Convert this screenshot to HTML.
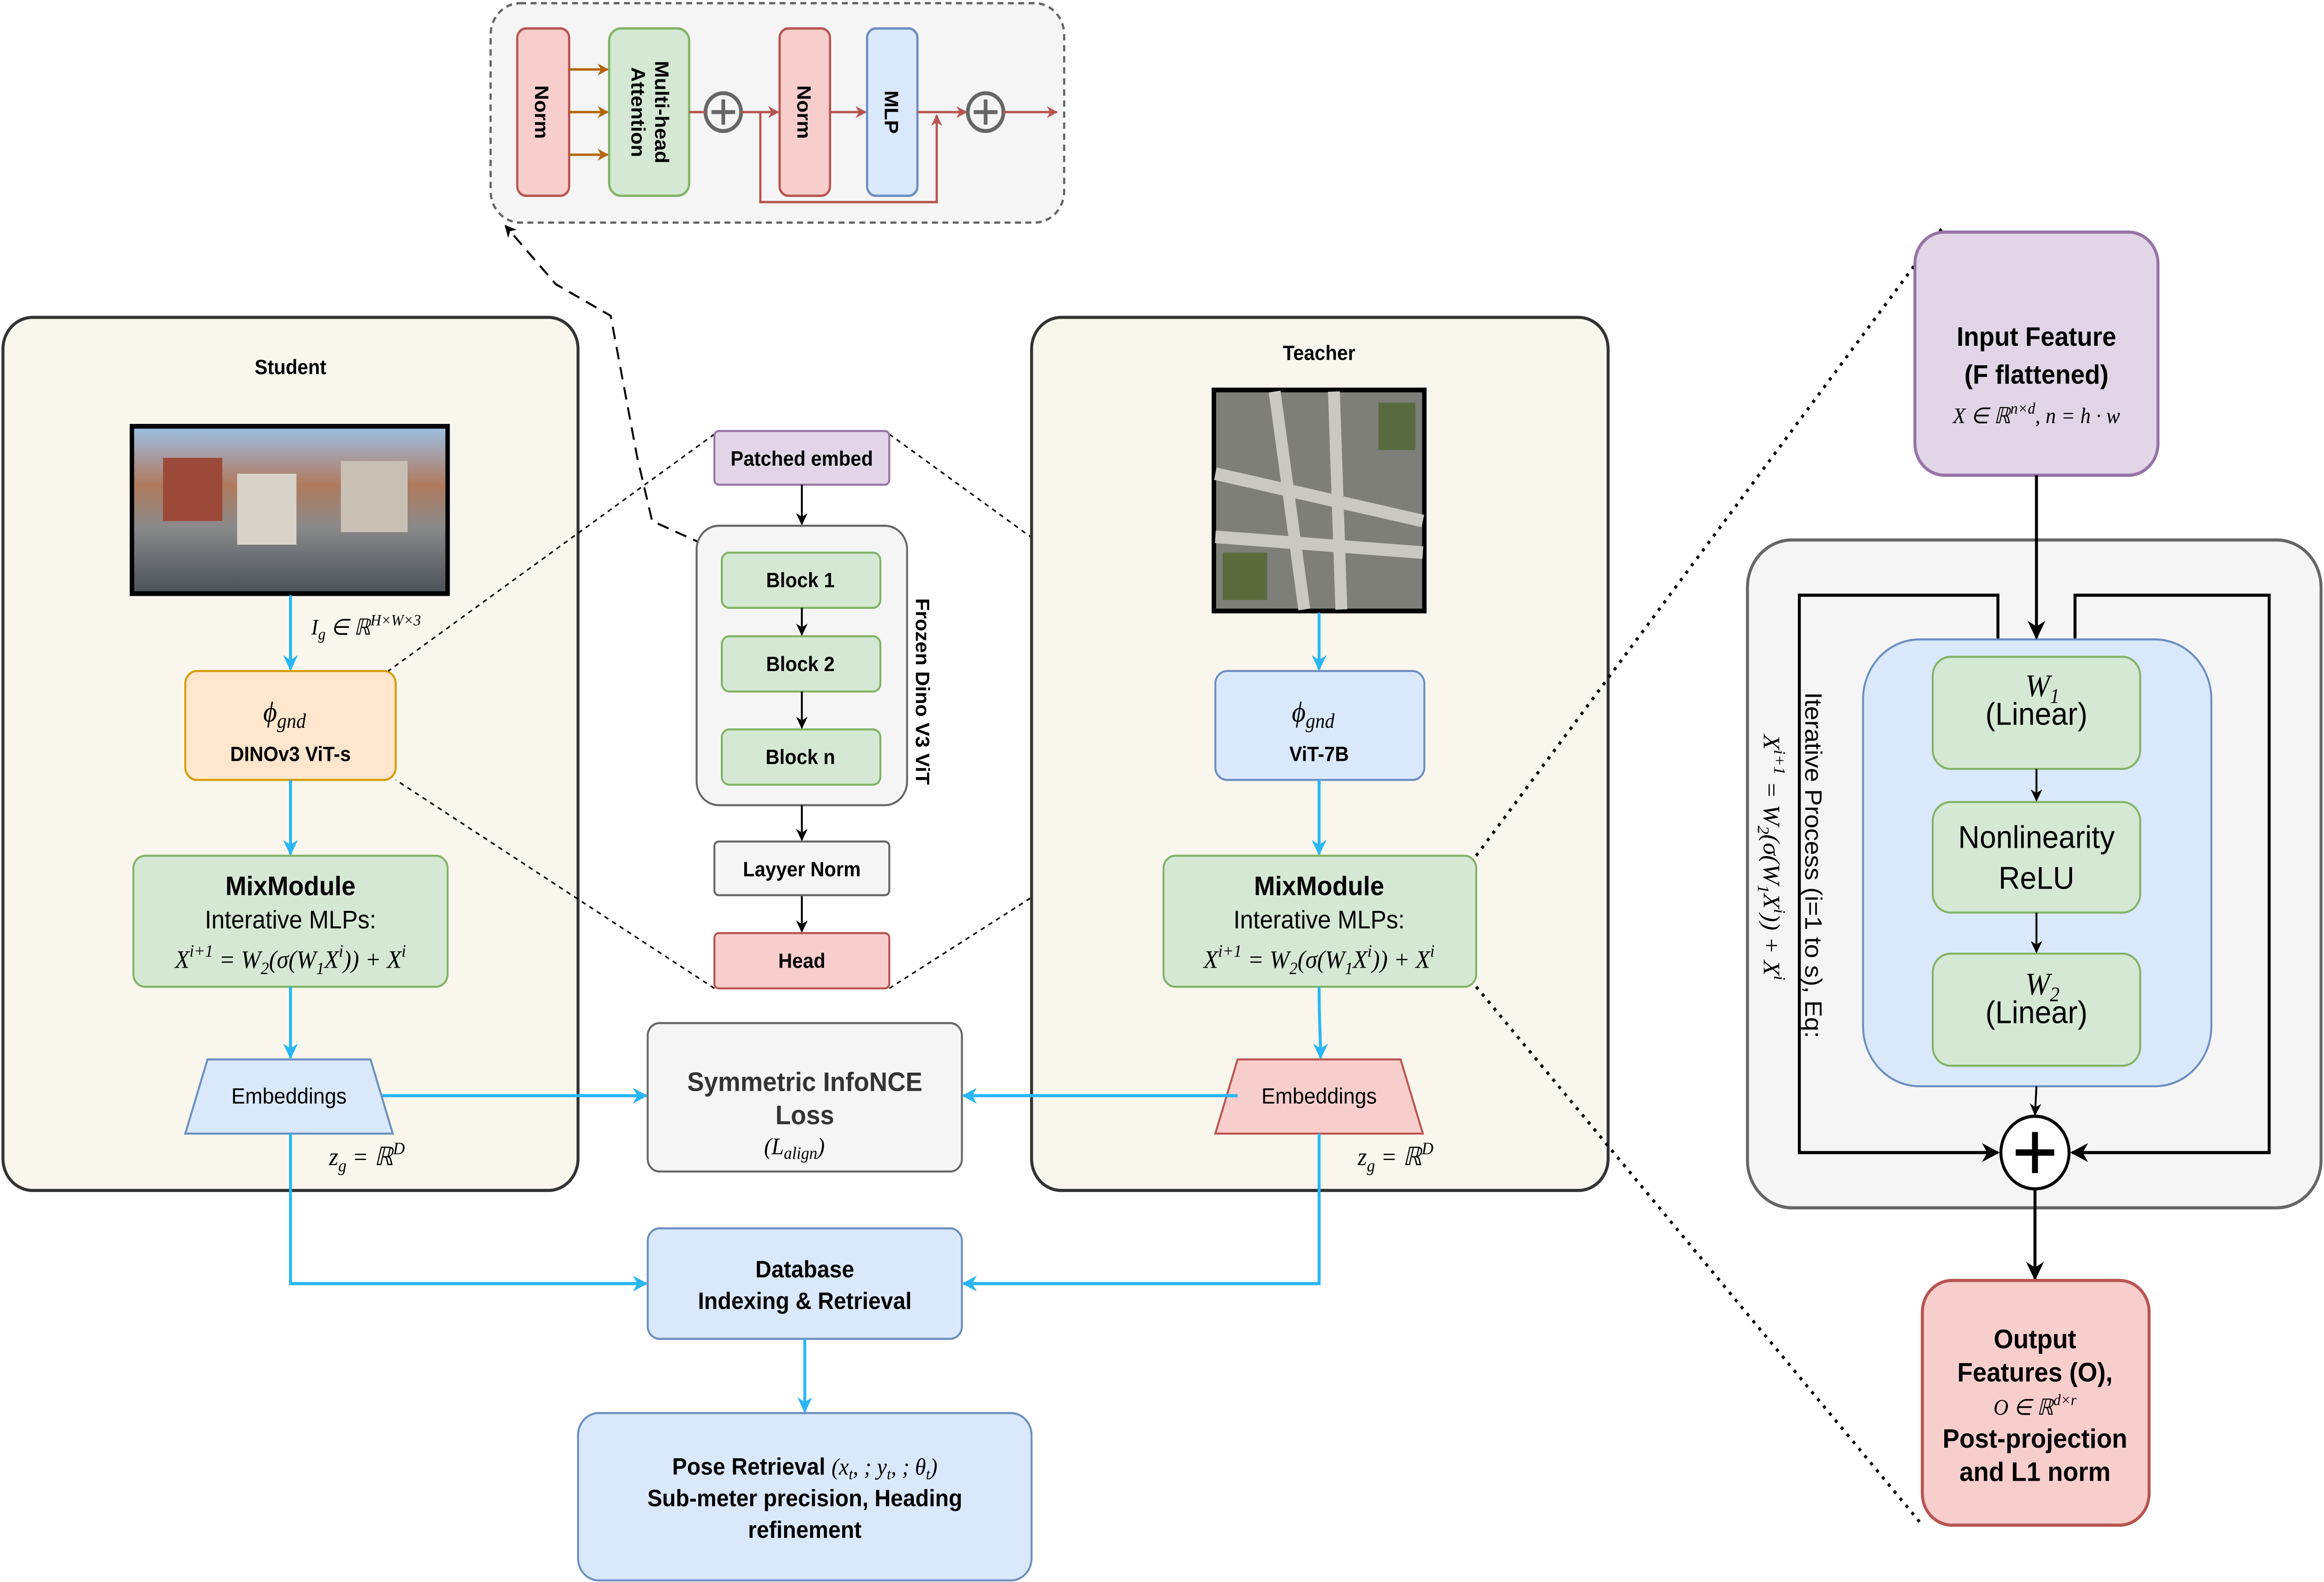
<!DOCTYPE html>
<html><head><meta charset="utf-8"><style>html,body{margin:0;padding:0;background:#fff;overflow:hidden;width:100vw;height:100vh}svg{display:block;width:100vw;height:100vh}text{font-family:"Liberation Sans",sans-serif}.m{font-family:"Liberation Serif",serif;font-style:italic}</style></head><body>
<svg viewBox="0 0 1568 1002" preserveAspectRatio="none" xmlns="http://www.w3.org/2000/svg">
<defs>
<marker id="ab" viewBox="0 0 10 10" refX="9" refY="5" markerWidth="6" markerHeight="6" orient="auto"><path d="M0,0L10,5L0,10L3,5z" fill="#000"/></marker>
<marker id="ac" viewBox="0 0 10 10" refX="9" refY="5" markerWidth="5" markerHeight="5" orient="auto"><path d="M0,0L10,5L0,10L3,5z" fill="#29b6f6"/></marker>
<marker id="ao" viewBox="0 0 10 10" refX="9" refY="5" markerWidth="5" markerHeight="5" orient="auto"><path d="M0,0L10,5L0,10L3,5z" fill="#b46504"/></marker>
<marker id="ar" viewBox="0 0 10 10" refX="9" refY="5" markerWidth="5" markerHeight="5" orient="auto"><path d="M0,0L10,5L0,10L3,5z" fill="#b85450"/></marker>
<linearGradient id="st" x1="0" y1="0" x2="0" y2="1"><stop offset="0" stop-color="#9cc0e6"/><stop offset="0.35" stop-color="#b07a5e"/><stop offset="0.6" stop-color="#8a8a8a"/><stop offset="1" stop-color="#4a5058"/></linearGradient>
</defs>
<!-- top block -->
<rect x="331" y="2" width="387" height="139" rx="20" fill="#f5f5f5" stroke="#666" stroke-width="1.5" stroke-dasharray="4,3"/>
<rect x="349" y="18" width="35" height="106" rx="6" fill="#f8cecc" stroke="#b85450" stroke-width="1.5"/>
<rect x="411" y="18" width="54" height="106" rx="8" fill="#d5e8d4" stroke="#82b366" stroke-width="1.5"/>
<rect x="526" y="18" width="34" height="106" rx="6" fill="#f8cecc" stroke="#b85450" stroke-width="1.5"/>
<rect x="585" y="18" width="34" height="106" rx="6" fill="#dae8fc" stroke="#6c8ebf" stroke-width="1.5"/>
<g font-weight="bold" font-size="13">
<text transform="translate(361,71) rotate(90)" text-anchor="middle">Norm</text>
<text transform="translate(442,71) rotate(90)" text-anchor="middle">Multi-head</text>
<text transform="translate(426,71) rotate(90)" text-anchor="middle">Attention</text>
<text transform="translate(538,71) rotate(90)" text-anchor="middle">Norm</text>
<text transform="translate(597,71) rotate(90)" text-anchor="middle">MLP</text>
</g>
<g stroke="#b46504" stroke-width="1.5" marker-end="url(#ao)"><line x1="384" y1="44" x2="410" y2="44"/><line x1="384" y1="71" x2="410" y2="71"/><line x1="384" y1="98" x2="410" y2="98"/></g>
<circle cx="488" cy="71" r="12" fill="#f5f5f5" stroke="#666" stroke-width="2.5"/><path d="M480,71h16M488,63v16" stroke="#666" stroke-width="2.5"/>
<circle cx="665" cy="71" r="12" fill="#f5f5f5" stroke="#666" stroke-width="2.5"/><path d="M657,71h16M665,63v16" stroke="#666" stroke-width="2.5"/>
<g stroke="#b85450" stroke-width="1.5" fill="none">
<line x1="465" y1="71" x2="476" y2="71"/>
<line x1="500" y1="71" x2="525" y2="71" marker-end="url(#ar)"/>
<line x1="560" y1="71" x2="584" y2="71" marker-end="url(#ar)"/>
<line x1="619" y1="71" x2="652" y2="71" marker-end="url(#ar)"/>
<line x1="677" y1="71" x2="713" y2="71" marker-end="url(#ar)"/>
<polyline points="513,71 513,128 632,128 632,73" marker-end="url(#ar)"/>
</g>
<path d="M487,350 L440,330 L430,290 L412,200 L375,180 L341,143" fill="none" stroke="#000" stroke-width="1.3" stroke-dasharray="8,5" marker-end="url(#ab)"/>
<!-- Student -->
<rect x="2" y="201" width="388" height="553" rx="20" fill="#f9f7ed" stroke="#333" stroke-width="2"/>
<text x="196" y="237" text-anchor="middle" font-weight="bold" font-size="13">Student</text>
<rect x="89" y="270" width="213" height="106" fill="url(#st)" stroke="#000" stroke-width="3"/>
<rect x="160" y="300" width="40" height="45" fill="#d8d2c8"/><rect x="110" y="290" width="40" height="40" fill="#9b4a3a"/><rect x="230" y="292" width="45" height="45" fill="#c9c0b5"/>
<text x="210" y="402" class="m" font-size="14">I<tspan font-size="10" dy="3">g</tspan><tspan dy="-3"> ∈ ℝ</tspan><tspan font-size="10" dy="-6">H×W×3</tspan></text>
<line x1="196" y1="377" x2="196" y2="424" stroke="#29b6f6" stroke-width="2" marker-end="url(#ac)"/>
<rect x="125" y="425" width="142" height="69" rx="8" fill="#ffe6cc" stroke="#d79b00" stroke-width="1.3"/>
<text x="192" y="457" text-anchor="middle" class="m" font-size="18">ϕ<tspan font-size="13" dy="4">gnd</tspan></text>
<text x="196" y="482" text-anchor="middle" font-weight="bold" font-size="13">DINOv3 ViT-s</text>
<line x1="196" y1="494" x2="196" y2="541" stroke="#29b6f6" stroke-width="2" marker-end="url(#ac)"/>
<rect x="90" y="542" width="212" height="83" rx="8" fill="#d5e8d4" stroke="#82b366" stroke-width="1.3"/>
<text x="196" y="567" text-anchor="middle" font-weight="bold" font-size="17">MixModule</text>
<text x="196" y="588" text-anchor="middle" font-size="16">Interative MLPs:</text>
<text x="196" y="613" text-anchor="middle" class="m" font-size="16">X<tspan font-size="11" dy="-7">i+1</tspan><tspan dy="7"> = W</tspan><tspan font-size="11" dy="4">2</tspan><tspan dy="-4">(σ(W</tspan><tspan font-size="11" dy="4">1</tspan><tspan dy="-4">X</tspan><tspan font-size="11" dy="-7">i</tspan><tspan dy="7">)) + X</tspan><tspan font-size="11" dy="-7">i</tspan></text>
<line x1="196" y1="625" x2="196" y2="670" stroke="#29b6f6" stroke-width="2" marker-end="url(#ac)"/>
<polygon points="140,671 250,671 265,718 125,718" fill="#dae8fc" stroke="#6c8ebf" stroke-width="1.3"/>
<text x="195" y="699" text-anchor="middle" font-size="14">Embeddings</text>
<text x="222" y="738" class="m" font-size="16">z<tspan font-size="11" dy="4">g</tspan><tspan dy="-4"> = ℝ</tspan><tspan font-size="11" dy="-7">D</tspan></text>
<line x1="258" y1="694" x2="436" y2="694" stroke="#29b6f6" stroke-width="2" marker-end="url(#ac)"/>
<polyline points="196,718 196,813 436,813" fill="none" stroke="#29b6f6" stroke-width="2" marker-end="url(#ac)"/>
<!-- center -->
<g stroke="#000" stroke-width="1" stroke-dasharray="3,3" fill="none">
<line x1="482" y1="275" x2="262" y2="425"/><line x1="482" y1="626" x2="267" y2="494"/>
<line x1="600" y1="275" x2="820" y2="425"/><line x1="600" y1="626" x2="820" y2="494"/>
</g>
<rect x="482" y="273" width="118" height="34" rx="3" fill="#e1d5e7" stroke="#9673a6" stroke-width="1.3"/>
<text x="541" y="295" text-anchor="middle" font-weight="bold" font-size="13">Patched embed</text>
<line x1="541" y1="307" x2="541" y2="332" stroke="#000" stroke-width="1.3" marker-end="url(#ab)"/>
<rect x="470" y="333" width="142" height="177" rx="15" fill="#f5f5f5" stroke="#666" stroke-width="1.3"/>
<text transform="translate(618,438) rotate(90)" text-anchor="middle" font-weight="bold" font-size="13">Frozen Dino V3 ViT</text>
<rect x="487" y="350" width="107" height="35" rx="5" fill="#d5e8d4" stroke="#82b366" stroke-width="1.3"/>
<rect x="487" y="403" width="107" height="35" rx="5" fill="#d5e8d4" stroke="#82b366" stroke-width="1.3"/>
<rect x="487" y="462" width="107" height="35" rx="5" fill="#d5e8d4" stroke="#82b366" stroke-width="1.3"/>
<g font-weight="bold" font-size="13" text-anchor="middle"><text x="540" y="372">Block 1</text><text x="540" y="425">Block 2</text><text x="540" y="484">Block n</text></g>
<g stroke="#000" stroke-width="1.3" marker-end="url(#ab)"><line x1="541" y1="385" x2="541" y2="402"/><line x1="541" y1="438" x2="541" y2="461"/><line x1="541" y1="510" x2="541" y2="532"/><line x1="541" y1="567" x2="541" y2="590"/></g>
<rect x="482" y="533" width="118" height="34" rx="3" fill="#f5f5f5" stroke="#666" stroke-width="1.3"/>
<text x="541" y="555" text-anchor="middle" font-weight="bold" font-size="13">Layyer Norm</text>
<rect x="482" y="591" width="118" height="35" rx="3" fill="#f8cecc" stroke="#b85450" stroke-width="1.3"/>
<text x="541" y="613" text-anchor="middle" font-weight="bold" font-size="13">Head</text>
<rect x="437" y="648" width="212" height="94" rx="8" fill="#f5f5f5" stroke="#666" stroke-width="1.3"/>
<text x="543" y="691" text-anchor="middle" font-weight="bold" font-size="17" fill="#333">Symmetric InfoNCE</text>
<text x="543" y="712" text-anchor="middle" font-weight="bold" font-size="17" fill="#333">Loss</text>
<text x="536" y="731" text-anchor="middle" class="m" font-size="15">(L<tspan font-size="11" dy="3">align</tspan><tspan dy="-3">)</tspan></text>
<rect x="437" y="778" width="212" height="70" rx="8" fill="#dae8fc" stroke="#6c8ebf" stroke-width="1.3"/>
<text x="543" y="809" text-anchor="middle" font-weight="bold" font-size="15">Database</text>
<text x="543" y="829" text-anchor="middle" font-weight="bold" font-size="15">Indexing &amp; Retrieval</text>
<line x1="543" y1="848" x2="543" y2="894" stroke="#29b6f6" stroke-width="2" marker-end="url(#ac)"/>
<rect x="390" y="895" width="306" height="106" rx="14" fill="#dae8fc" stroke="#6c8ebf" stroke-width="1.3"/>
<text x="543" y="934" text-anchor="middle" font-size="15"><tspan font-weight="bold">Pose Retrieval </tspan><tspan class="m">(x<tspan font-size="10" dy="3">t</tspan><tspan dy="-3">, ; y</tspan><tspan font-size="10" dy="3">t</tspan><tspan dy="-3">, ; θ</tspan><tspan font-size="10" dy="3">t</tspan><tspan dy="-3">)</tspan></tspan></text>
<text x="543" y="954" text-anchor="middle" font-weight="bold" font-size="15">Sub-meter precision, Heading</text>
<text x="543" y="974" text-anchor="middle" font-weight="bold" font-size="15">refinement</text>
<!-- Teacher -->
<rect x="696" y="201" width="389" height="553" rx="20" fill="#f9f7ed" stroke="#333" stroke-width="2"/>
<text x="890" y="228" text-anchor="middle" font-weight="bold" font-size="13">Teacher</text>
<rect x="819" y="247" width="142" height="140" fill="#7d7f78" stroke="#000" stroke-width="3"/>
<path d="M860,248L880,386M900,248L905,386M820,300L960,330M820,340L960,350" stroke="#c9c9c2" stroke-width="8"/>
<rect x="825" y="350" width="30" height="30" fill="#5c6b3e"/><rect x="930" y="255" width="25" height="30" fill="#5a6a40"/>
<line x1="890" y1="388" x2="890" y2="424" stroke="#29b6f6" stroke-width="2" marker-end="url(#ac)"/>
<rect x="820" y="425" width="141" height="69" rx="8" fill="#dae8fc" stroke="#6c8ebf" stroke-width="1.3"/>
<text x="886" y="457" text-anchor="middle" class="m" font-size="18">ϕ<tspan font-size="13" dy="4">gnd</tspan></text>
<text x="890" y="482" text-anchor="middle" font-weight="bold" font-size="13">ViT-7B</text>
<line x1="890" y1="494" x2="890" y2="541" stroke="#29b6f6" stroke-width="2" marker-end="url(#ac)"/>
<rect x="785" y="542" width="211" height="83" rx="8" fill="#d5e8d4" stroke="#82b366" stroke-width="1.3"/>
<text x="890" y="567" text-anchor="middle" font-weight="bold" font-size="17">MixModule</text>
<text x="890" y="588" text-anchor="middle" font-size="16">Interative MLPs:</text>
<text x="890" y="613" text-anchor="middle" class="m" font-size="16">X<tspan font-size="11" dy="-7">i+1</tspan><tspan dy="7"> = W</tspan><tspan font-size="11" dy="4">2</tspan><tspan dy="-4">(σ(W</tspan><tspan font-size="11" dy="4">1</tspan><tspan dy="-4">X</tspan><tspan font-size="11" dy="-7">i</tspan><tspan dy="7">)) + X</tspan><tspan font-size="11" dy="-7">i</tspan></text>
<path d="M890,625 C890,650 891,655 891,670" fill="none" stroke="#29b6f6" stroke-width="2" marker-end="url(#ac)"/>
<polygon points="835,671 945,671 960,718 820,718" fill="#f8cecc" stroke="#b85450" stroke-width="1.3"/>
<text x="890" y="699" text-anchor="middle" font-size="14">Embeddings</text>
<text x="916" y="738" class="m" font-size="16">z<tspan font-size="11" dy="4">g</tspan><tspan dy="-4"> = ℝ</tspan><tspan font-size="11" dy="-7">D</tspan></text>
<line x1="835" y1="694" x2="650" y2="694" stroke="#29b6f6" stroke-width="2" marker-end="url(#ac)"/>
<polyline points="890,718 890,813 650,813" fill="none" stroke="#29b6f6" stroke-width="2" marker-end="url(#ac)"/>
<!-- right -->
<g stroke="#000" stroke-width="2" stroke-dasharray="2,4" fill="none"><line x1="996" y1="542" x2="1310" y2="145"/><line x1="996" y1="625" x2="1297" y2="966"/></g>
<rect x="1292" y="147" width="164" height="154" rx="20" fill="#e1d5e7" stroke="#9673a6" stroke-width="2"/>
<text x="1374" y="219" text-anchor="middle" font-weight="bold" font-size="17">Input Feature</text>
<text x="1374" y="243" text-anchor="middle" font-weight="bold" font-size="17">(F flattened)</text>
<text x="1374" y="268" text-anchor="middle" class="m" font-size="14">X ∈ ℝ<tspan font-size="10" dy="-6">n×d</tspan><tspan dy="6">,     n = h · w</tspan></text>
<rect x="1179" y="342" width="387" height="423" rx="30" fill="#f5f5f5" stroke="#666" stroke-width="2"/>
<polyline points="1348,405 1348,377 1214,377 1214,730 1348,730" fill="none" stroke="#000" stroke-width="2" marker-end="url(#ab)"/>
<polyline points="1400,405 1400,377 1531,377 1531,730 1398,730" fill="none" stroke="#000" stroke-width="2" marker-end="url(#ab)"/>
<rect x="1257" y="405" width="235" height="283" rx="38" fill="#dae8fc" stroke="#6c8ebf" stroke-width="1.3"/>
<line x1="1374" y1="301" x2="1374" y2="404" stroke="#000" stroke-width="2" marker-end="url(#ab)"/>
<rect x="1304" y="416" width="140" height="71" rx="12" fill="#d5e8d4" stroke="#82b366" stroke-width="1.3"/>
<rect x="1304" y="508" width="140" height="70" rx="12" fill="#d5e8d4" stroke="#82b366" stroke-width="1.3"/>
<rect x="1304" y="604" width="140" height="71" rx="12" fill="#d5e8d4" stroke="#82b366" stroke-width="1.3"/>
<text x="1378" y="441" text-anchor="middle" class="m" font-size="20">W<tspan font-size="13" dy="4">1</tspan></text>
<text x="1374" y="459" text-anchor="middle" font-size="20">(Linear)</text>
<text x="1374" y="537" text-anchor="middle" font-size="20">Nonlinearity</text>
<text x="1374" y="563" text-anchor="middle" font-size="20">ReLU</text>
<text x="1378" y="630" text-anchor="middle" class="m" font-size="20">W<tspan font-size="13" dy="4">2</tspan></text>
<text x="1374" y="648" text-anchor="middle" font-size="20">(Linear)</text>
<g stroke="#000" stroke-width="1.3" marker-end="url(#ab)"><line x1="1374" y1="487" x2="1374" y2="507"/><line x1="1374" y1="578" x2="1374" y2="603"/><line x1="1374" y1="688" x2="1373" y2="706"/></g>
<circle cx="1373" cy="730" r="23" fill="#fff" stroke="#000" stroke-width="2"/>
<path d="M1360,730h26M1373,717v26" stroke="#000" stroke-width="4"/>
<text transform="translate(1218,548) rotate(90)" text-anchor="middle" font-size="16">Iterative Process (i=1 to s), Eq:</text>
<text transform="translate(1190,543) rotate(90)" text-anchor="middle" class="m" font-size="16">X<tspan font-size="11" dy="-7">i+1</tspan><tspan dy="7"> = W</tspan><tspan font-size="11" dy="4">2</tspan><tspan dy="-4">(σ(W</tspan><tspan font-size="11" dy="4">1</tspan><tspan dy="-4">X</tspan><tspan font-size="11" dy="-7">i</tspan><tspan dy="7">)) + X</tspan><tspan font-size="11" dy="-7">i</tspan></text>
<line x1="1373" y1="753" x2="1373" y2="810" stroke="#000" stroke-width="2" marker-end="url(#ab)"/>
<rect x="1297" y="811" width="153" height="155" rx="20" fill="#f8cecc" stroke="#b85450" stroke-width="2"/>
<g text-anchor="middle" font-weight="bold" font-size="17"><text x="1373" y="854">Output</text><text x="1373" y="875">Features (O),</text><text x="1373" y="917">Post-projection</text><text x="1373" y="938">and L1 norm</text></g>
<text x="1373" y="896" text-anchor="middle" class="m" font-size="14">O ∈ ℝ<tspan font-size="10" dy="-6">d×r</tspan></text>
</svg>
</body></html>
